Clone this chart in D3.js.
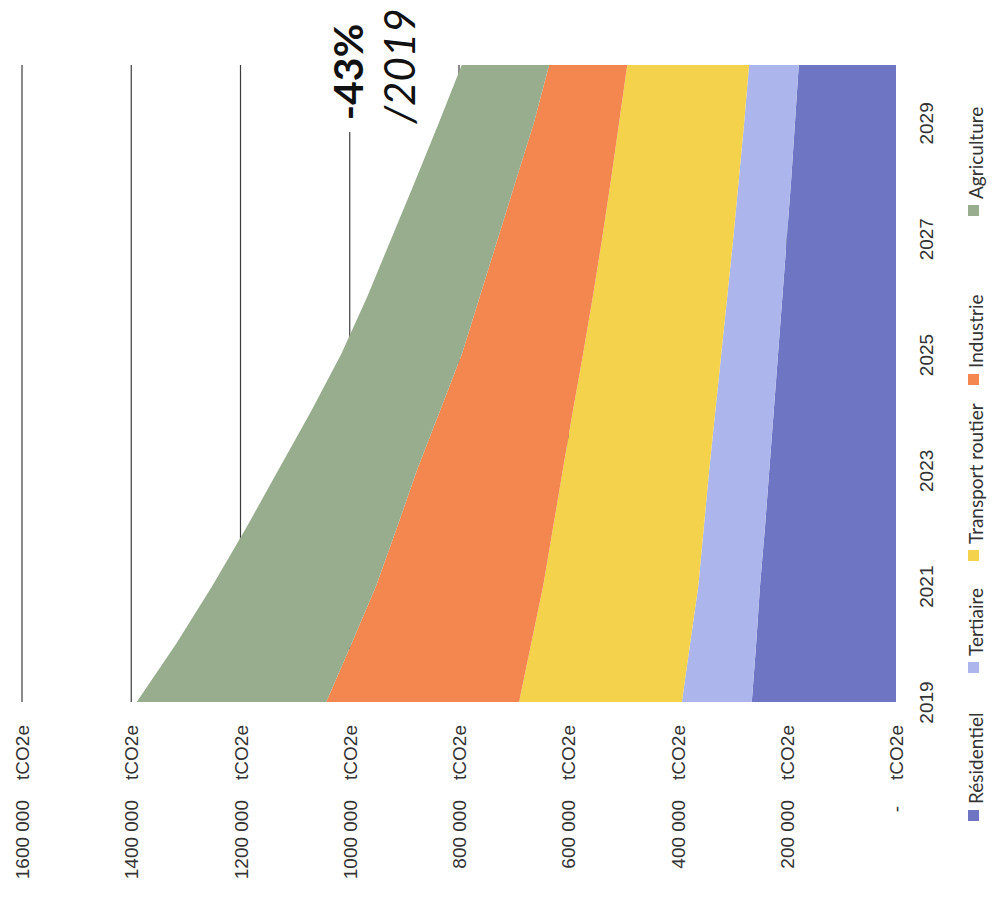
<!DOCTYPE html>
<html>
<head>
<meta charset="utf-8">
<script src="https://cdn.jsdelivr.net/npm/d3@7"></script>
<style>
  html, body { margin: 0; padding: 0; background: #fff; }
  svg { display: block; font-family: Lato, "Open Sans", sans-serif; }
</style>
</head>
<body>
<svg id="chart" width="992" height="899"></svg>
<script>
// Émissions territoriales par secteur (tCO2e), trajectoire 2019–2030
const years = [2019, 2020, 2021, 2022, 2023, 2024, 2025, 2026, 2027, 2028, 2029, 2030];
const residentiel = [264000, 256000, 249000, 240000, 232000, 224000, 216000, 208000, 200000, 192000, 185000, 178000];
const tertiaire   = [128000, 121000, 113000, 112000, 110000, 107000, 104000, 101000, 98000, 96000, 93000, 91000];
const transport   = [298000, 291000, 284000, 276000, 268000, 261000, 253000, 246000, 240000, 234000, 229000, 223000];
const industrie   = [353000, 329000, 306000, 286000, 267000, 244000, 222000, 207000, 191000, 174000, 156000, 143000];
const agriculture = [347000, 321000, 300000, 276000, 254000, 236000, 221000, 206000, 195000, 184000, 174000, 160000];

const seriesNames = ["Résidentiel", "Tertiaire", "Transport routier", "Industrie", "Agriculture"];
const seriesColors = ["#6e76c4", "#adb6ec", "#f4d24b", "#f4874f", "#97ad8d"];
const yearTickLabels = [2019, 2021, 2023, 2025, 2027, 2029];
const valueTicks = [0, 200000, 400000, 600000, 800000, 1000000, 1200000, 1400000, 1600000];
const annotationMain = "-43%";
const annotationSub = "/2019";

const rows = years.map((yr, i) => ({
  year: yr,
  "Résidentiel": residentiel[i],
  "Tertiaire": tertiaire[i],
  "Transport routier": transport[i],
  "Industrie": industrie[i],
  "Agriculture": agriculture[i]
}));

const svg = d3.select("#chart");

// The chart is laid out turned a quarter turn: values run right-to-left, years bottom-to-top.
const vScale = d3.scaleLinear().domain([0, 1600000]).range([896, 22]);
const tScale = d3.scaleLinear().domain([2019, 2030]).range([702, 65]);

// Gridlines
svg.append("g")
  .selectAll("line")
  .data(valueTicks.filter(v => v > 0))
  .join("line")
  .attr("x1", d => vScale(d)).attr("x2", d => vScale(d))
  .attr("y1", tScale(2030)).attr("y2", tScale(2019))
  .attr("stroke", "#3c3c3c")
  .attr("stroke-width", 1.2);

// Stacked areas
const stacked = d3.stack().keys(seriesNames)(rows);
const area = d3.area()
  .y(d => tScale(d.data.year))
  .x0(d => vScale(d[0]))
  .x1(d => vScale(d[1]));

svg.append("g")
  .selectAll("path")
  .data(stacked)
  .join("path")
  .attr("d", area)
  .attr("fill", (d, i) => seriesColors[i]);

// Value axis labels (accounting style: number, then unit)
const fmt = v => {
  if (v === 0) return "-";
  const thousands = Math.floor(v / 1000);
  const rest = String(v % 1000).padStart(3, "0");
  return `${thousands} ${rest}`;
};
const vAxis = d3.axisBottom(vScale).tickValues(valueTicks).tickSize(0).tickFormat("");
const vAxisG = svg.append("g").call(vAxis);
vAxisG.select(".domain").remove();
vAxisG.selectAll(".tick").each(function (d) {
  const g = d3.select(this);
  g.select("text").remove();
  g.append("text")
    .attr("transform", `translate(0,${d === 0 ? 806 : 800}) rotate(-90)`)
    .attr("text-anchor", "end")
    .attr("dy", "0.35em")
    .attr("font-size", 19)
    .attr("fill", "#333")
    .text(fmt(d));
  g.append("text")
    .attr("transform", "translate(0,725) rotate(-90)")
    .attr("text-anchor", "end")
    .attr("dy", "0.35em")
    .attr("font-size", 19)
    .attr("fill", "#333")
    .text("tCO2e");
});

// Year axis labels
const tAxis = d3.axisRight(tScale).tickValues(yearTickLabels).tickSize(0).tickFormat("");
const tAxisG = svg.append("g").attr("transform", "translate(933,0)").call(tAxis);
tAxisG.select(".domain").remove();
tAxisG.selectAll(".tick").each(function (d) {
  const g = d3.select(this);
  g.select("text").remove();
  g.append("text")
    .attr("transform", "rotate(-90)")
    .attr("text-anchor", "middle")
    .attr("font-size", 19)
    .attr("fill", "#333")
    .text(d);
});

// Legend
const legendPos = [816, 668, 556, 380, 211];
const legend = svg.append("g")
  .selectAll("g")
  .data(seriesNames)
  .join("g")
  .attr("transform", (d, i) => `translate(974,${legendPos[i]})`);
legend.append("rect")
  .attr("x", -6).attr("y", -6)
  .attr("width", 11).attr("height", 11)
  .attr("fill", (d, i) => seriesColors[i]);
legend.append("text")
  .attr("transform", "translate(9,-12) rotate(-90)")
  .attr("text-anchor", "start")
  .attr("font-size", 19)
  .attr("fill", "#333")
  .text(d => d);

// Reduction annotation
svg.append("rect")
  .attr("x", 322).attr("y", 20)
  .attr("width", 46).attr("height", 112)
  .attr("fill", "#fff");
svg.append("text")
  .attr("transform", "translate(363,72) rotate(-90)")
  .attr("text-anchor", "middle")
  .attr("font-size", 41)
  .attr("font-weight", "bold")
  .attr("fill", "#111")
  .text(annotationMain);
svg.append("text")
  .attr("transform", "translate(415,66) rotate(-90)")
  .attr("text-anchor", "middle")
  .attr("font-size", 42)
  .attr("font-style", "italic")
  .attr("fill", "#111")
  .text(annotationSub);
</script>
</body>
</html>
